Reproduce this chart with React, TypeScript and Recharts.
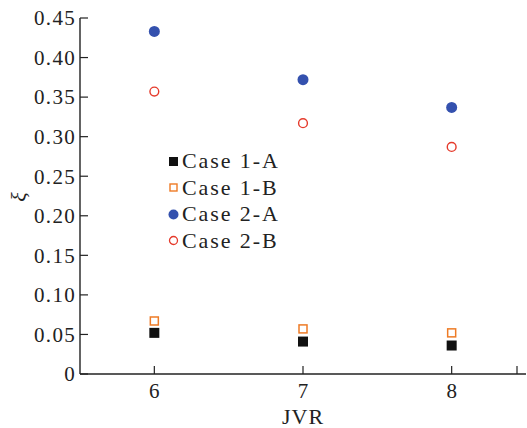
import { ScatterChart, Scatter, XAxis, YAxis } from 'recharts'

const jvr = [6, 7, 8]
const case1A = [0.052, 0.041, 0.036]
const case1B = [0.067, 0.057, 0.052]
const case2A = [0.433, 0.372, 0.337]
const case2B = [0.357, 0.317, 0.287]
const yTicks = [0, 0.05, 0.1, 0.15, 0.2, 0.25, 0.3, 0.35, 0.4, 0.45]
const xTicks = [6, 7, 8, 8.5]

const FONT = '"Liberation Serif", serif'
const INK = '#222'
const BLUE = '#3451ae'
const RED = '#e53a2b'
const ORANGE = '#ee7b26'

const toPoints = (vals: number[]) => jvr.map((x, i) => ({ x, y: vals[i] }))

const FilledSquare = (p: any) => <rect x={p.cx - 5} y={p.cy - 5} width={10} height={10} fill="#111" />
const OpenSquare = (p: any) => (
  <rect x={p.cx - 4} y={p.cy - 4} width={8} height={8} fill="none" stroke={ORANGE} strokeWidth={1.5} />
)
const FilledCircle = (p: any) => <circle cx={p.cx} cy={p.cy} r={5.5} fill={BLUE} />
const OpenCircle = (p: any) => <circle cx={p.cx} cy={p.cy} r={4.4} fill="none" stroke={RED} strokeWidth={1.4} />

const YTick = (p: any) => {
  const v = p.payload.value
  return (
    <g>
      <line x1={p.x} y1={p.y} x2={p.x + 8} y2={p.y} stroke={INK} strokeWidth={1.2} />
      <text x={p.x - 4} y={p.y} dy="0.35em" textAnchor="end" fontFamily={FONT} fontSize={21} letterSpacing={1.3} fill={INK}>
        {v === 0 ? '0' : v.toFixed(2)}
      </text>
    </g>
  )
}

const XTick = (p: any) => {
  const v = p.payload.value
  return (
    <g>
      <line x1={p.x} y1={p.y} x2={p.x} y2={p.y - 8} stroke={INK} strokeWidth={1.2} />
      {Number.isInteger(v) && (
        <text x={p.x} y={p.y + 24} textAnchor="middle" fontFamily={FONT} fontSize={21} fill={INK}>
          {v}
        </text>
      )}
    </g>
  )
}

const legendItems = [
  { label: 'Case 1-A', icon: <rect x={1} y={1} width={9} height={9} fill="#111" /> },
  { label: 'Case 1-B', icon: <rect x={2} y={2} width={7} height={7} fill="none" stroke={ORANGE} strokeWidth={1.4} /> },
  { label: 'Case 2-A', icon: <circle cx={5.5} cy={5.5} r={5} fill={BLUE} /> },
  { label: 'Case 2-B', icon: <circle cx={5.5} cy={5.5} r={4} fill="none" stroke={RED} strokeWidth={1.3} /> },
]

const LegendBox = () => (
  <div
    style={{
      position: 'absolute',
      left: 168,
      top: 148,
      fontFamily: FONT,
      fontSize: 22,
      color: INK,
      lineHeight: '26.5px',
    }}
  >
    {legendItems.map(item => (
      <div key={item.label} style={{ display: 'flex', alignItems: 'center' }}>
        <svg width={11} height={11} style={{ marginRight: 3 }}>
          {item.icon}
        </svg>
        <span style={{ letterSpacing: 1.9 }}>{item.label}</span>
      </div>
    ))}
  </div>
)

export default function App() {
  return (
    <div style={{ position: 'absolute', left: 0, top: 0, width: 527, height: 428, background: '#fff' }}>
      <ScatterChart width={527} height={428} margin={{ top: 18, right: 1, bottom: 0, left: 0 }}>
        <XAxis
          type="number"
          dataKey="x"
          domain={[5.5, 8.5]}
          ticks={xTicks}
          height={54}
          tickSize={0}
          tickMargin={0}
          tick={<XTick />}
          axisLine={{ stroke: INK, strokeWidth: 1.4 }}
          label={{
            content: () => (
              <text x={303} y={424} textAnchor="middle" fontFamily={FONT} fontSize={22} letterSpacing={1} fill={INK}>
                JVR
              </text>
            ),
          }}
        />
        <YAxis
          type="number"
          dataKey="y"
          domain={[0, 0.45]}
          ticks={yTicks}
          width={80}
          tickSize={0}
          tickMargin={0}
          tick={<YTick />}
          axisLine={{ stroke: INK, strokeWidth: 1.4 }}
          label={{
            content: () => (
              <text x={18} y={197} transform="rotate(-90 18 197)" textAnchor="middle" dy="0.35em" fontFamily={FONT} fontSize={22} fontStyle="italic" fill={INK}>
                ξ
              </text>
            ),
          }}
        />
        <Scatter name="Case 1-A" data={toPoints(case1A)} shape={FilledSquare} isAnimationActive={false} />
        <Scatter name="Case 1-B" data={toPoints(case1B)} shape={OpenSquare} isAnimationActive={false} />
        <Scatter name="Case 2-A" data={toPoints(case2A)} shape={FilledCircle} isAnimationActive={false} />
        <Scatter name="Case 2-B" data={toPoints(case2B)} shape={OpenCircle} isAnimationActive={false} />
      </ScatterChart>
      <LegendBox />
    </div>
  )
}
